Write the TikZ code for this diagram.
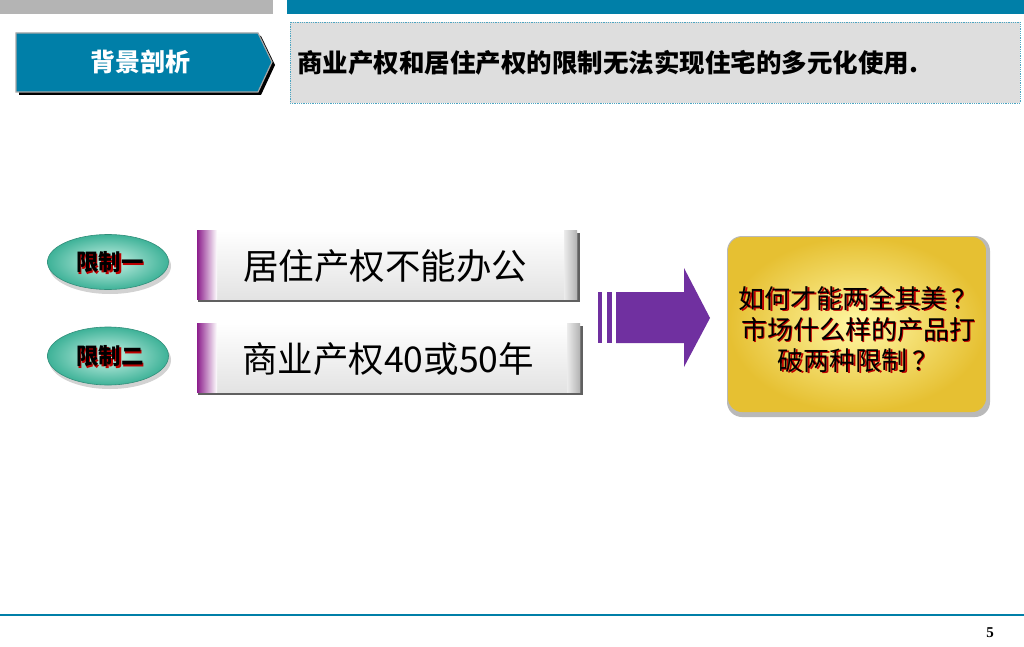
\documentclass[tikz,border=0pt]{standalone}
\usepackage{fontspec}
\usetikzlibrary{shapes.geometric}
\newfontfamily\cjk{Noto Sans CJK SC}
\newfontfamily\numfont{Liberation Serif}
\definecolor{blueA}{RGB}{0,127,168}
\definecolor{topgray}{RGB}{180,180,180}
\definecolor{boxgray}{RGB}{222,222,222}
\definecolor{purpA}{RGB}{112,48,160}
\definecolor{barpurp}{RGB}{140,30,140}
\definecolor{tealout}{RGB}{62,178,152}
\definecolor{tealin}{RGB}{205,244,232}
\definecolor{goldin}{RGB}{255,248,165}
\definecolor{goldout}{RGB}{230,192,50}
\definecolor{shred}{RGB}{190,0,0}
\newcommand\redsh[1]{\makebox[0pt][l]{\hspace{1.3pt}\raisebox{-1.3pt}{\color{shred}#1}}#1}
\newcommand\redshb[1]{\makebox[0pt][l]{\hspace{1.8pt}\raisebox{-1.8pt}{\color{shred}#1}}#1}
\begin{document}
\begin{tikzpicture}[x=1pt,y=-1pt,
  bartext/.style={font=\cjk\fontsize{35.5}{40}\selectfont, text=black, inner sep=0pt},
  elltext/.style={font=\cjk\bfseries\fontsize{22.5}{26}\selectfont, text=black, inner sep=0pt},
  ellshape/.style={ellipse, minimum width=121pt, minimum height=55pt, inner sep=0pt, draw=tealout!80!black, line width=0.6pt, inner color=tealin, outer color=tealout}
]
\useasboundingbox (0,0) rectangle (1024,647);
\fill[white] (0,0) rectangle (1024,647);
% top bars
\fill[topgray] (0,0) rectangle (273,14);
\fill[blueA] (287,0) rectangle (1024,14);
% header arrow
\fill[black] (19,36) -- (261,36) -- (275,65) -- (261,95) -- (19,95) -- cycle;
\filldraw[fill=blueA, draw=gray!70, line width=1.2pt] (16,33) -- (258,33) -- (272,62) -- (258,92) -- (16,92) -- cycle;
\node[font=\cjk\bfseries\fontsize{25}{28}\selectfont, text=white, inner sep=0pt] (hdr) at (140,62) {背景剖析};
% title box
\filldraw[fill=boxgray, draw=blueA!70, densely dotted, line width=0.8pt] (290,22) rectangle (1020,103);
\node[anchor=west, font=\cjk\bfseries\fontsize{25.5}{28}\selectfont, text=black, inner sep=0pt] (title) at (297,63) {商业产权和居住产权的限制无法实现住宅的多元化使用.};
% ellipses
\fill[gray!35] (110,266) ellipse [x radius=61, y radius=28];
\node[ellshape] (e1) at (108,262) {};
\node[elltext] (e1t) at (110,263) {\redsh{限制一}};
\fill[gray!35] (110,360) ellipse [x radius=61, y radius=29];
\node[ellshape, minimum height=58pt] (e2) at (108,356) {};
\node[elltext] (e2t) at (110,357) {\redsh{限制二}};
% bar 1
\fill[gray!75!black] (198,233) rectangle (580,302);
\shade[top color=white, bottom color=gray!22] (197,230) rectangle (577,299);
\shade[left color=gray!15, right color=gray!60] (564,230) rectangle (577,299);
\shade[left color=barpurp, right color=white] (197,230) rectangle (217,299);
\node[bartext] (b1) at (385,266) {居住产权不能办公};
% bar 2
\fill[gray!75!black] (198,326) rectangle (583,395);
\shade[top color=white, bottom color=gray!22] (197,323) rectangle (580,392);
\shade[left color=gray!15, right color=gray!60] (567,323) rectangle (580,392);
\shade[left color=barpurp, right color=white] (197,323) rectangle (217,392);
\node[bartext] (b2) at (388,359) {商业产权40或50年};
% arrow
\fill[purpA] (598,292) rectangle (602,343);
\fill[purpA] (607,292) rectangle (612,343);
\fill[purpA] (616,292) -- (684,292) -- (684,268) -- (710,318) -- (684,367) -- (684,343) -- (616,343) -- cycle;
% yellow box
\fill[gray!55, rounded corners=15pt] (727,236) rectangle (990,417);
\shade[inner color=goldin, outer color=goldout, rounded corners=14pt] (728,237) rectangle (986,412);
\node[font=\cjk\fontsize{26}{31}\selectfont, text=black, align=center, inner sep=0pt] (q) at (858,330) {\redshb{如何才能两全其美\,？}\\\redshb{市场什么样的产品打}\\\redshb{破两种限制\,？}};
% bottom line
\draw[blueA, line width=2.2pt] (0,615) -- (1024,615);
\node[font=\numfont\bfseries\fontsize{15}{18}\selectfont, inner sep=0pt] (pg) at (990,633) {5};
\end{tikzpicture}
\end{document}
